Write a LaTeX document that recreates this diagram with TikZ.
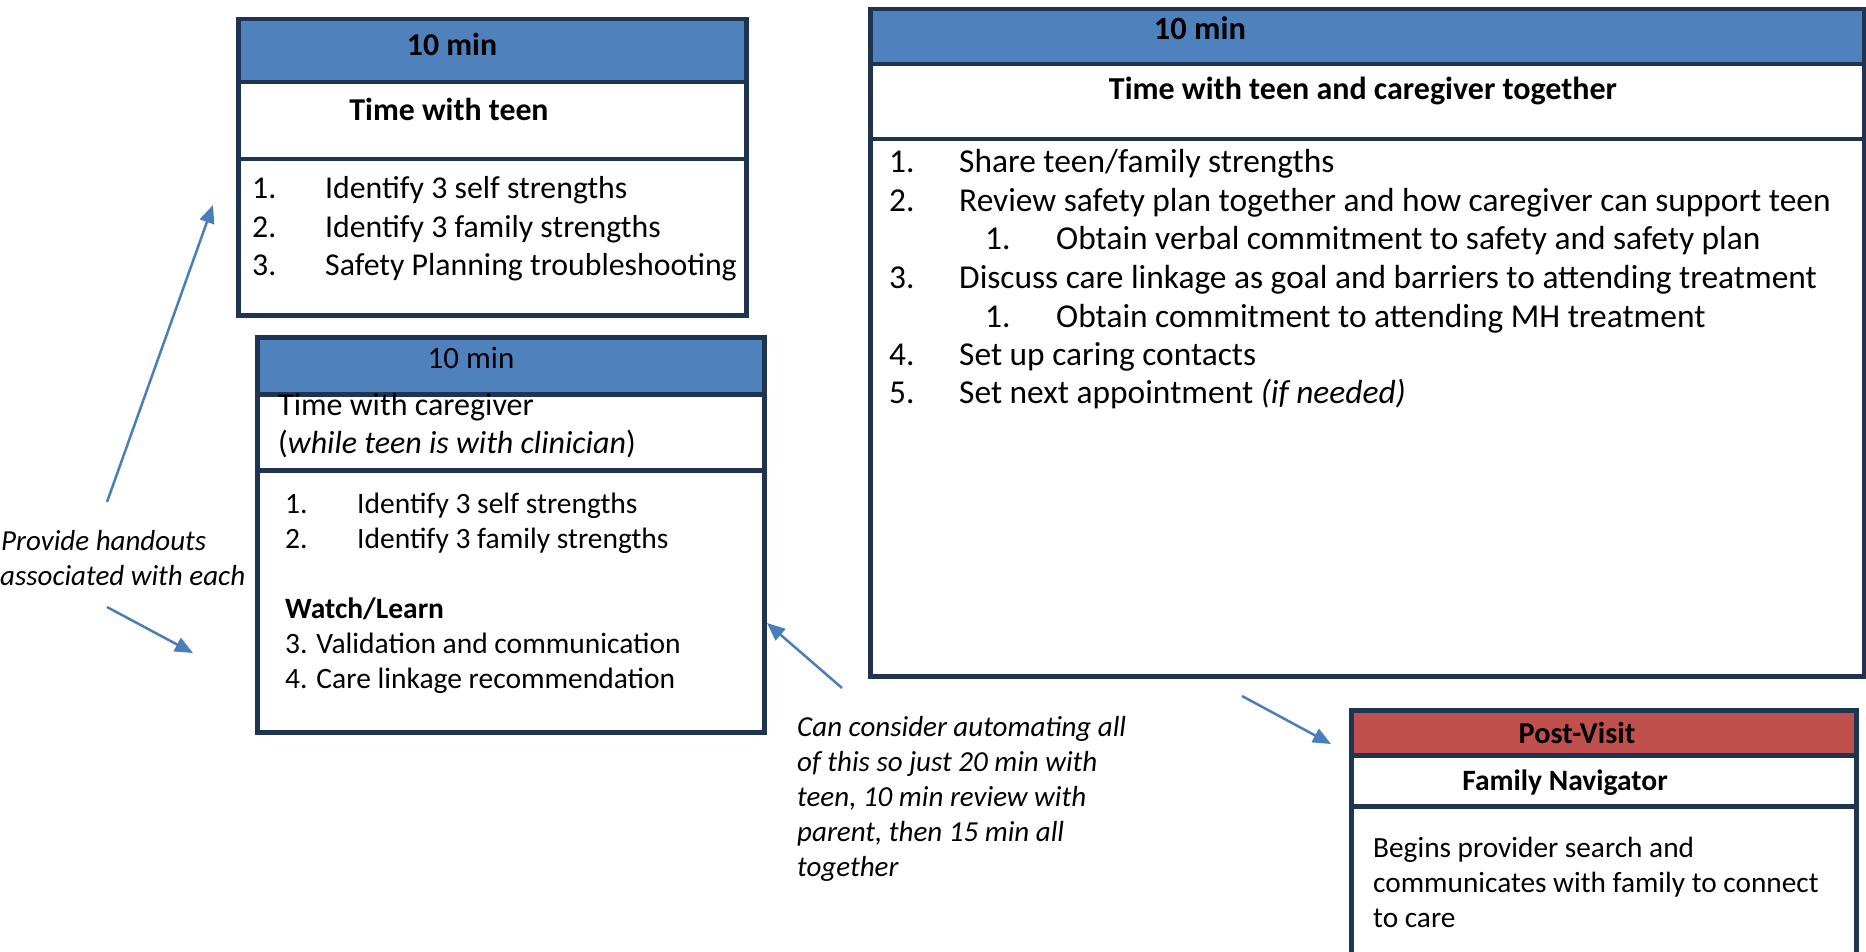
\documentclass[tikz,border=0pt]{standalone}
\usepackage{fontspec}
\setmainfont{Carlito}
\usetikzlibrary{arrows.meta}
\definecolor{hblue}{HTML}{4F81BD}
\definecolor{hred}{HTML}{C0504D}
\definecolor{navy}{HTML}{1F3450}
\definecolor{arr}{HTML}{4A7EBB}
\newcommand{\fsz}[1]{\fontsize{#1}{#1}\selectfont}
\tikzset{
  boxpart/.style={draw=navy, line width=4.5pt, fill=white, inner sep=0pt, anchor=north west},
  hdr/.style={boxpart, fill=hblue},
  hdrred/.style={boxpart, fill=hred},
  lt/.style={inner sep=0pt, anchor=base west},
  ct/.style={inner sep=0pt, anchor=base},
  notetxt/.style={inner sep=0pt, anchor=base west, font=\fsz{29}\itshape},
  note/.style={draw=arr, line width=2.5pt, -{Triangle[length=18pt,width=15pt,fill=arr]}},
}
\begin{document}
\begin{tikzpicture}[x=1pt,y=-1pt]
\useasboundingbox (0,0) rectangle (1866,952);
\clip (0,0) rectangle (1866,952);

% Box 1
\node[boxpart, minimum width=508pt, minimum height=156pt] (b1b) at (236,157) {};
\node[boxpart, minimum width=508pt, minimum height=77pt] (b1t) at (236,80) {};
\node[hdr, minimum width=508pt, minimum height=63pt] (b1h) at (236,17) {};
\begin{scope}[every node/.append style={font=\fsz{31.8}}]
\node[ct, font=\fsz{31.8}\bfseries] (b1ht) at (452,56) {10 min};
\node[ct, font=\fsz{31.8}\bfseries] (b1tt) at (449,121) {Time with teen};
\node[lt] (b1n1) at (252,199) {1.};
\node[lt] (b1i1) at (325,199) {Identify 3 self strengths};
\node[lt] (b1n2) at (252,238) {2.};
\node[lt] (b1i2) at (325,238) {Identify 3 family strengths};
\node[lt] (b1n3) at (252,276) {3.};
\node[lt] (b1i3) at (325,276) {Safety Planning troubleshooting};
\end{scope}

% Box 2
\node[boxpart, minimum width=507pt, minimum height=262pt] (b2b) at (255,468) {};
\node[boxpart, minimum width=507pt, minimum height=76pt] (b2t) at (255,392) {};
\node[hdr, minimum width=507pt, minimum height=57pt] (b2h) at (255,335) {};
\begin{scope}[every node/.append style={font=\fsz{29.5}}]
\node[ct, font=\fsz{31}] (b2ht) at (471,368) {10 min};
\node[lt, font=\fsz{32}] (b2t1) at (278,415) {Time with caregiver};
\node[lt, font=\fsz{32}] (b2t2) at (278,453) {(\textit{while teen is with clinician})};
\node[lt] (b2n1) at (285,513) {1.};
\node[lt] (b2i1) at (357,513) {Identify 3 self strengths};
\node[lt] (b2n2) at (285,548) {2.};
\node[lt] (b2i2) at (357,548) {Identify 3 family strengths};
\node[lt, font=\fsz{29.5}\bfseries] (b2w) at (285,618) {Watch/Learn};
\node[lt] (b2i3) at (285,653) {3. Validation and communication};
\node[lt] (b2i4) at (285,688) {4. Care linkage recommendation};
\end{scope}

% Box 3
\node[boxpart, minimum width=994pt, minimum height=537pt] (b3b) at (868,137) {};
\node[boxpart, minimum width=994pt, minimum height=75pt] (b3t) at (868,62) {};
\node[hdr, minimum width=994pt, minimum height=55pt] (b3h) at (868,7) {};
\begin{scope}[every node/.append style={font=\fsz{33.4}}]
\node[ct, font=\fsz{32.5}\bfseries] (b3ht) at (1200,40) {10 min};
\node[ct, font=\fsz{32}\bfseries] (b3tt) at (1363,100) {Time with teen and caregiver together};
\node[lt] (b3n1) at (889,173) {1.};
\node[lt] (b3i1) at (959,173) {Share teen/family strengths};
\node[lt] (b3n2) at (889,212) {2.};
\node[lt] (b3i2) at (959,212) {Review safety plan together and how caregiver can support teen};
\node[lt] (b3s1n) at (985,250) {1.};
\node[lt] (b3s1) at (1056,250) {Obtain verbal commitment to safety and safety plan};
\node[lt] (b3n3) at (889,288) {3.};
\node[lt] (b3i3) at (959,288) {Discuss care linkage as goal and barriers to attending treatment};
\node[lt] (b3s2n) at (985,327) {1.};
\node[lt] (b3s2) at (1056,327) {Obtain commitment to attending MH treatment};
\node[lt] (b3n4) at (889,365) {4.};
\node[lt] (b3i4) at (959,365) {Set up caring contacts};
\node[lt] (b3n5) at (889,403) {5.};
\node[lt] (b3i5) at (959,403) {Set next appointment \textit{(if needed)}};
\end{scope}

% Box 4
\node[boxpart, minimum width=505pt, minimum height=190pt] (b4b) at (1349,804) {};
\node[boxpart, minimum width=505pt, minimum height=51pt] (b4t) at (1349,753) {};
\node[hdrred, minimum width=505pt, minimum height=45pt] (b4h) at (1349,708) {};
\begin{scope}[every node/.append style={font=\fsz{29.3}}]
\node[ct, font=\fsz{30.3}\bfseries] (b4ht) at (1577,743) {Post-Visit};
\node[ct, font=\fsz{29.5}\bfseries] (b4tt) at (1565,790) {Family Navigator};
\node[lt] (b4l1) at (1373,857) {Begins provider search and};
\node[lt] (b4l2) at (1373,892) {communicates with family to connect};
\node[lt] (b4l3) at (1373,927) {to care};
\end{scope}

% Notes
\node[notetxt] (n1a) at (1,550) {Provide handouts};
\node[notetxt] (n1b) at (0,585) {associated with each};
\node[notetxt] (n2a) at (797,736) {Can consider automating all};
\node[notetxt] (n2b) at (797,771) {of this so just 20 min with};
\node[notetxt] (n2c) at (797,806) {teen, 10 min review with};
\node[notetxt] (n2d) at (797,841) {parent, then 15 min all};
\node[notetxt] (n2e) at (797,876) {together};

% Arrows
\coordinate (a1s) at (107,502);
\coordinate (a1e) at (213,205);
\coordinate (a2s) at (107,607);
\coordinate (a2e) at (193,653);
\coordinate (a3s) at (842,688);
\coordinate (a3e) at (767,623);
\coordinate (a4s) at (1242,696);
\coordinate (a4e) at (1331,744);
\draw[note] (a1s) -- (a1e);
\draw[note] (a2s) -- (a2e);
\draw[note] (a3s) -- (a3e);
\draw[note] (a4s) -- (a4e);
\end{tikzpicture}
\end{document}
